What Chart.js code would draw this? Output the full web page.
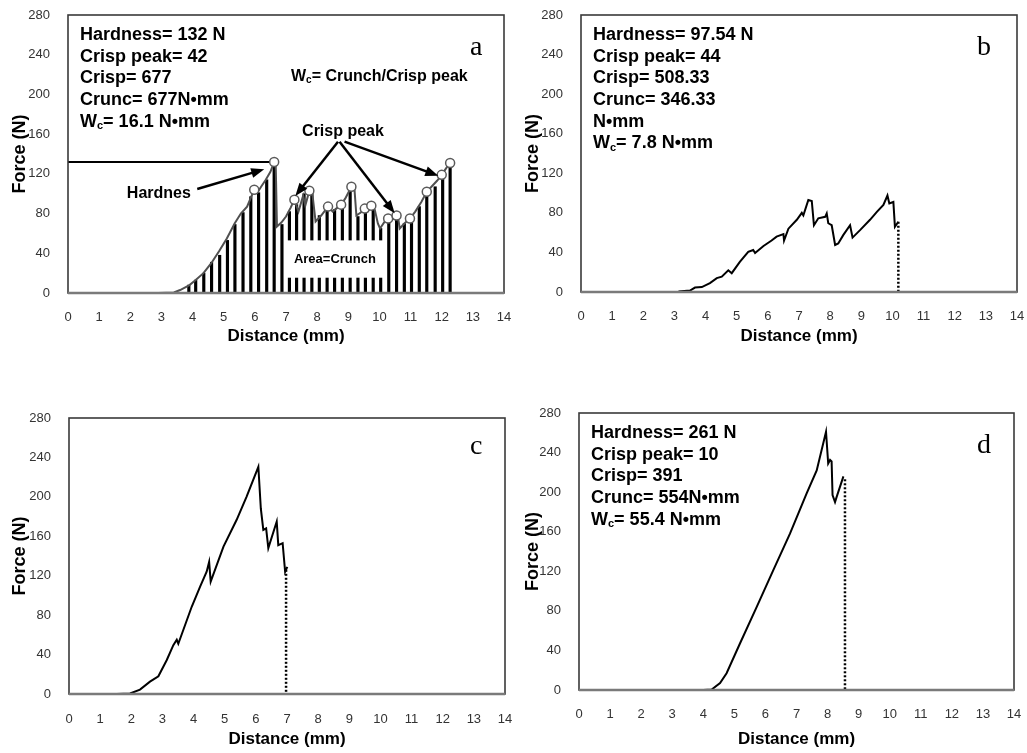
<!DOCTYPE html>
<html>
<head>
<meta charset="utf-8">
<script src="https://cdn.jsdelivr.net/npm/chart.js@4.4.1/dist/chart.umd.min.js"></script>
<style>
  body { margin: 0; background: #fff; }
  #page { position: relative; width: 1027px; height: 753px; background: #fff; }
  canvas { position: absolute; }
</style>
</head>
<body>
<div id="page">
  <canvas id="chartA" width="513" height="376" style="left:0;top:0"></canvas>
  <canvas id="chartB" width="514" height="376" style="left:513px;top:0"></canvas>
  <canvas id="chartC" width="513" height="377" style="left:0;top:376px"></canvas>
  <canvas id="chartD" width="514" height="377" style="left:513px;top:376px"></canvas>
</div>
<script>
const SANS = "'Liberation Sans', Arial, Helvetica, sans-serif"
const SERIF = "'Liberation Serif', 'Times New Roman', serif"
Chart.defaults.font.family = SANS

// axis ticks shared by all four panels
const distanceTicks = [0, 1, 2, 3, 4, 5, 6, 7, 8, 9, 10, 11, 12, 13, 14]
const forceTicks = [0, 40, 80, 120, 160, 200, 240, 280]

// panel a
const aDist = [2.9, 3.4, 3.6, 3.9, 4.1, 4.35, 4.6, 4.85, 5.1, 5.35, 5.55, 5.75, 5.98, 6.1, 6.2, 6.35, 6.5, 6.62, 6.67, 6.71,
  6.85, 7.0, 7.15, 7.27, 7.4, 7.55, 7.62, 7.75, 7.85, 7.95, 8.13, 8.35, 8.5, 8.65, 8.77, 8.9, 9.1, 9.2, 9.26, 9.4,
  9.53, 9.62, 9.74, 9.85, 9.95, 10.02, 10.15, 10.28, 10.42, 10.55, 10.6, 10.65, 10.8, 10.98, 11.15, 11.35, 11.52, 11.7, 11.85, 12.0,
  12.15, 12.27]
const aForce = [0, 0.5, 3, 8, 13, 20, 30, 42, 55, 70, 80, 87, 104, 102, 107, 114, 122, 132, 129, 67,
  71, 77, 86, 94, 82, 98, 88, 103, 99, 72, 78, 87, 82, 86, 89, 95, 107, 104, 78, 81,
  85, 82, 88, 84, 70, 65, 71, 75, 74, 78, 76, 65, 70, 75, 82, 92, 102, 108, 113, 119,
  126, 131]
const aPeakDist = [5.98, 6.62, 7.27, 7.75, 8.35, 8.77, 9.1, 9.53, 9.74, 10.28, 10.55, 10.98, 11.52, 12.0, 12.27]
const aPeakForce = [104, 132, 94, 103, 87, 89, 107, 85, 88, 75, 78, 75, 102, 119, 131]
const aBarDist = [3.88, 4.1, 4.36, 4.61, 4.87, 5.12, 5.36, 5.62, 5.87, 6.12, 6.38, 6.62, 6.87, 7.11, 7.34, 7.58, 7.83, 8.07,
  8.32, 8.56, 8.81, 9.06, 9.31, 9.55, 9.8, 10.04, 10.3, 10.55, 10.8, 11.03, 11.28, 11.52, 11.79, 12.03, 12.27]
const aBarForce = [8, 13, 20, 31, 38, 53, 69, 81, 97, 101, 114, 127, 69, 82, 89, 100, 102, 78,
  84, 84, 90, 105, 77, 82, 85, 65, 73, 76, 70, 76, 87, 99, 107, 117, 132]
const aHardness = 132
const aHardnessDist = 6.62

// panel b
const bDist = [3.13, 3.5, 3.66, 3.88, 4.14, 4.36, 4.52, 4.73, 4.84, 5.1, 5.37, 5.53, 5.59, 5.86, 6.12, 6.28, 6.5, 6.52, 6.66, 6.93,
  7.09, 7.14, 7.3, 7.41, 7.48, 7.62, 7.84, 7.89, 7.94, 8.05, 8.16, 8.26, 8.42, 8.64, 8.72, 8.96, 9.28, 9.5, 9.71, 9.84,
  9.9, 10.03, 10.08, 10.19]
const bForce = [0.5, 1.5, 4.5, 5, 9, 14, 15.5, 22, 19, 30.5, 40.5, 42.5, 39.5, 46.5, 52, 56, 58.5, 52, 64, 73,
  80, 77.5, 93, 92, 67.5, 74.5, 76, 79.5, 69.5, 67.5, 47.5, 49, 57.5, 67.5, 55, 62.5, 73, 81, 88, 97.54,
  89.5, 91, 66, 71]
const bEndDist = 10.19
const bEndForce = 71

// panel c
const cDist = [1.53, 1.96, 2.28, 2.6, 2.87, 3.14, 3.35, 3.46, 3.51, 3.94, 4.21, 4.42, 4.5, 4.55, 4.96, 5.38, 5.7, 6.08, 6.16, 6.24,
  6.33, 6.4, 6.67, 6.72, 6.86, 6.94, 7.01]
const cForce = [0, 0.5, 4.5, 12.5, 18, 34.5, 49.5, 55, 51, 88.5, 109, 124, 134, 114, 149.5, 176.5, 200, 230.5, 188, 166.5,
  168, 148, 175, 151, 153, 124, 129]
const cEndDist = 6.97
const cEndForce = 126

// panel d
const dDist = [4.0, 4.27, 4.54, 4.75, 5.18, 5.72, 6.25, 6.79, 7.33, 7.65, 7.95, 8.02, 8.08, 8.13, 8.16, 8.24, 8.29, 8.51]
const dForce = [0, 0.5, 7, 17, 47, 84, 121, 158, 199, 222, 261, 229, 232.5, 231, 197, 190, 195, 216]
const dEndDist = 8.56
const dEndForce = 213

function pts(xs, ys) {
  return xs.map((x, i) => ({ x: x, y: ys[i] }))
}

function curve(xs, ys, color) {
  return { data: pts(xs, ys), borderColor: color, borderWidth: 2, pointRadius: 0, tension: 0, order: 1 }
}

function endMarker(x, y) {
  return {
    data: pts([x, x], [y, 0]),
    borderColor: "#000",
    borderWidth: 2.5,
    borderDash: [2, 2],
    pointRadius: 0,
    order: 2,
  }
}

// text with "_" prefixed parts drawn as subscripts
function drawRich(ctx, x, y, parts, size) {
  let cx = x
  parts.forEach((p) => {
    const sub = p.startsWith("_")
    const txt = sub ? p.slice(1) : p
    const fs = sub ? Math.round(size * 0.62) : size
    ctx.font = "bold " + fs + "px " + SANS
    ctx.fillText(txt, cx, sub ? y + size * 0.25 : y)
    cx += ctx.measureText(txt).width
  })
}

function arrow(ctx, x1, y1, x2, y2) {
  const ang = Math.atan2(y2 - y1, x2 - x1)
  const len = 13
  const half = 5
  ctx.beginPath()
  ctx.moveTo(x1, y1)
  ctx.lineTo(x2 - Math.cos(ang) * len * 0.7, y2 - Math.sin(ang) * len * 0.7)
  ctx.stroke()
  ctx.beginPath()
  ctx.moveTo(x2, y2)
  ctx.lineTo(x2 - len * Math.cos(ang) + half * Math.sin(ang), y2 - len * Math.sin(ang) - half * Math.cos(ang))
  ctx.lineTo(x2 - len * Math.cos(ang) - half * Math.sin(ang), y2 - len * Math.sin(ang) + half * Math.cos(ang))
  ctx.closePath()
  ctx.fill()
}

// scale size is fixed so every plot area sits where it should
function fixSize(prop, size) {
  return (s) => {
    s[prop] = size
    s.paddingTop = 0
    s.paddingBottom = 0
    s.paddingLeft = 0
    s.paddingRight = 0
  }
}

// box round the plot area, grey base line at zero
const framePlugin = {
  id: "frame",
  afterDatasetsDraw(chart) {
    const { ctx, chartArea: a } = chart
    ctx.save()
    ctx.strokeStyle = "#3a3a3a"
    ctx.lineWidth = 1.6
    ctx.strokeRect(a.left, a.top, a.right - a.left, a.bottom - a.top)
    ctx.strokeStyle = "#7a7a7a"
    ctx.lineWidth = 2.5
    ctx.beginPath()
    ctx.moveTo(a.left, a.bottom)
    ctx.lineTo(a.right, a.bottom)
    ctx.stroke()
    ctx.restore()
  },
}

// text block in the top-left corner plus the panel letter
function notesPlugin(lines, letter, letterDx, letterDy) {
  return {
    id: "notes",
    afterDraw(chart) {
      const { ctx, chartArea: a } = chart
      ctx.save()
      ctx.fillStyle = "#000"
      ctx.textBaseline = "middle"
      ctx.textAlign = "left"
      lines.forEach((parts, i) => drawRich(ctx, a.left + 12, a.top + 20 + i * 21.7, parts, 18))
      ctx.textBaseline = "alphabetic"
      ctx.font = "28px " + SERIF
      ctx.fillText(letter, a.right - letterDx, a.top + letterDy)
      ctx.restore()
    },
  }
}

// panel a callouts: crunch area label, arrows and captions
const calloutPlugin = {
  id: "callouts",
  afterDatasetsDraw(chart) {
    const { ctx, scales } = chart
    const px = (v) => scales.x.getPixelForValue(v)
    const py = (v) => scales.y.getPixelForValue(v)
    ctx.save()
    ctx.fillStyle = "#fff"
    ctx.fillRect(px(6.95), py(53), px(10.2) - px(6.95), py(15.4) - py(53))
    ctx.fillStyle = "#000"
    ctx.font = "bold 13px " + SANS
    ctx.textAlign = "center"
    ctx.textBaseline = "middle"
    ctx.fillText("Area=Crunch", px(8.57), py(34))
    ctx.restore()
  },
  afterDraw(chart) {
    const { ctx, scales } = chart
    const px = (v) => scales.x.getPixelForValue(v)
    const py = (v) => scales.y.getPixelForValue(v)
    ctx.save()
    ctx.fillStyle = "#000"
    ctx.strokeStyle = "#000"
    ctx.lineWidth = 2.5
    ctx.textBaseline = "middle"
    ctx.textAlign = "left"
    drawRich(ctx, px(7.16), py(218), ["W", "_c", "= Crunch/Crisp peak"], 16)
    ctx.font = "bold 16px " + SANS
    ctx.fillText("Hardnes", px(1.89), py(100))
    ctx.textAlign = "center"
    ctx.fillText("Crisp peak", px(8.83), py(163))
    arrow(ctx, px(4.15), py(104.7), px(6.3), py(124.6))
    arrow(ctx, px(8.67), py(152.4), px(7.3), py(97.7))
    arrow(ctx, px(8.72), py(152.4), px(10.49), py(80.3))
    arrow(ctx, px(8.88), py(152.4), px(11.89), py(118.1))
    ctx.restore()
  },
}

function makePanel(id, geo, datasets, extraPlugins) {
  return new Chart(document.getElementById(id), {
    type: "line",
    data: { datasets: datasets },
    options: {
      responsive: false,
      animation: false,
      events: [],
      layout: { padding: { left: 0, top: geo.top, right: geo.right, bottom: 0 } },
      plugins: { legend: { display: false }, tooltip: { enabled: false } },
      scales: {
        x: {
          type: "linear",
          min: 0,
          max: 14,
          offset: false,
          afterBuildTicks: (s) => { s.ticks = distanceTicks.map((v) => ({ value: v })) },
          afterFit: fixSize("height", geo.xAxisH),
          ticks: { padding: geo.xTickPad, color: "#333", font: { size: 13 }, autoSkip: false, maxRotation: 0 },
          grid: { display: false, drawTicks: false },
          border: { display: false },
          title: {
            display: true,
            text: "Distance (mm)",
            color: "#000",
            font: { size: 17, weight: "bold" },
            padding: { top: 0, bottom: geo.xTitlePad },
          },
        },
        y: {
          type: "linear",
          min: 0,
          max: 280,
          afterBuildTicks: (s) => { s.ticks = forceTicks.map((v) => ({ value: v })) },
          afterFit: fixSize("width", geo.yAxisW),
          ticks: { padding: 18, color: "#333", font: { size: 13 } },
          grid: { display: false, drawTicks: false },
          border: { display: false },
          title: {
            display: true,
            text: "Force (N)",
            color: "#000",
            font: { size: 18, weight: "bold" },
            padding: { top: 9, bottom: 0 },
          },
        },
      },
    },
    plugins: [framePlugin].concat(extraPlugins),
  })
}

makePanel(
  "chartA",
  { top: 15, right: 9, yAxisW: 68, xAxisH: 83, xTickPad: 17, xTitlePad: 29 },
  [
    {
      data: pts(aPeakDist, aPeakForce),
      showLine: false,
      pointRadius: 4.5,
      pointBorderWidth: 1.5,
      pointBorderColor: "#5a5a5a",
      pointBackgroundColor: "#fff",
      order: 0,
    },
    curve(aDist, aForce, "#505050"),
    {
      data: pts([0, aHardnessDist], [aHardness, aHardness]),
      borderColor: "#000",
      borderWidth: 2,
      pointRadius: 0,
      order: 2,
    },
    {
      type: "bar",
      data: pts(aBarDist, aBarForce),
      backgroundColor: "#000",
      barThickness: 2.5,
      order: 3,
    },
  ],
  [
    calloutPlugin,
    notesPlugin([["Hardness= 132 N"], ["Crisp peak= 42"], ["Crisp= 677"], ["Crunc= 677N•mm"], ["W", "_c", "= 16.1 N•mm"]], "a", 34, 40),
  ]
)

makePanel(
  "chartB",
  { top: 15, right: 10, yAxisW: 68, xAxisH: 84, xTickPad: 17, xTitlePad: 29 },
  [curve(bDist, bForce, "#000"), endMarker(bEndDist, bEndForce)],
  [notesPlugin([["Hardness= 97.54 N"], ["Crisp peak= 44"], ["Crisp= 508.33"], ["Crunc= 346.33"], ["N•mm"], ["W", "_c", "= 7.8 N•mm"]], "b", 40, 40)]
)

makePanel(
  "chartC",
  { top: 42, right: 8, yAxisW: 69, xAxisH: 59, xTickPad: 18, xTitlePad: 3 },
  [curve(cDist, cForce, "#000"), endMarker(cEndDist, cEndForce)],
  [notesPlugin([], "c", 35, 36)]
)

makePanel(
  "chartD",
  { top: 37, right: 13, yAxisW: 66, xAxisH: 63, xTickPad: 17, xTitlePad: 3 },
  [curve(dDist, dForce, "#000"), endMarker(dEndDist, dEndForce)],
  [notesPlugin([["Hardness= 261 N"], ["Crisp peak= 10"], ["Crisp= 391"], ["Crunc= 554N•mm"], ["W", "_c", "= 55.4 N•mm"]], "d", 37, 40)]
)
</script>
</body>
</html>
